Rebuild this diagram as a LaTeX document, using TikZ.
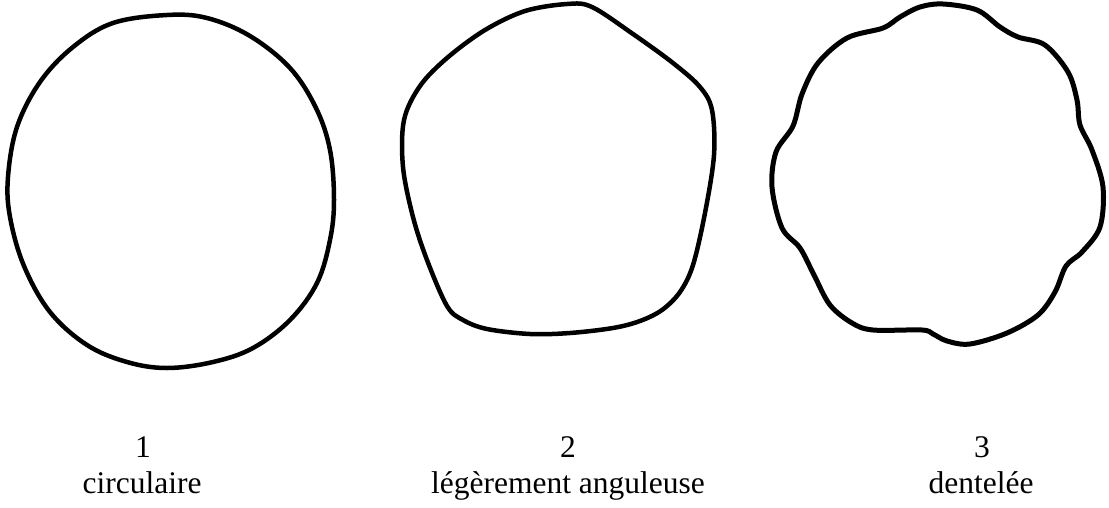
\documentclass[tikz,border=0pt]{standalone}
\usepackage{fontspec}
\setmainfont{Liberation Serif}
\newfontfamily\timesfam{Liberation Serif}
\begin{document}
\begin{tikzpicture}[x=1pt,y=-1pt,
  outline/.style={line width=4.5pt,line join=round},
  lbl/.style={inner sep=0pt,anchor=base,font=\timesfam\fontsize{31.5}{36}\selectfont}]
\useasboundingbox (0,0) rectangle (1109,507);
% shape 1: circular
\draw[outline] plot[smooth cycle,tension=0.6] coordinates {
 (167,15) (207,18) (250,36) (290,68) (316,108) (330,150) (334,200) (330,240)
 (317,283) (290,320) (253,348) (213,362) (167,368) (127,362) (87,345) (50,312)
 (24,266) (10,217) (8,177) (17,127) (40,82) (73,47) (113,23)};
% shape 2: slightly angular
\draw[outline] plot[smooth cycle,tension=0.55] coordinates {
 (567,4) (592,7) (633,34) (673,63) (700,87) (712,110)
 (714,155) (705,213) (693,265) (680,292) (662,310) (640,321) (613,328) (570,333)
 (530,334) (487,329) (463,320) (447,306) (427,260) (413,217) (403,167) (404,120)
 (420,86) (447,58) (485,30) (525,11)};
% shape 3: dentate
\draw[outline,line width=5pt] plot[smooth cycle,tension=0.55] coordinates {
 (943,4) (977,10) (1000,27) (1018,37) (1045,45) (1068,72) (1077,100) (1080,125)
 (1092,150) (1103,187) (1100,227) (1082,252) (1066,266) (1055,292) (1038,315)
 (1007,333) (970,344) (947,341) (933,334) (922,330) (873,330) (852,323) (830,305)
 (814,275) (800,248) (782,228) (772,187) (776,152) (793,126) (802,94) (818,63)
 (847,38) (883,28) (900,17) (920,7)};
% labels
\node[lbl] (n1) at (143,457) {1};
\node[lbl] (t1) at (142,493) {circulaire};
\node[lbl] (n2) at (568,457) {2};
\node[lbl] (t2) at (568,493) {légèrement anguleuse};
\node[lbl] (n3) at (982,457) {3};
\node[lbl] (t3) at (981,493) {dentelée};
\end{tikzpicture}
\end{document}
